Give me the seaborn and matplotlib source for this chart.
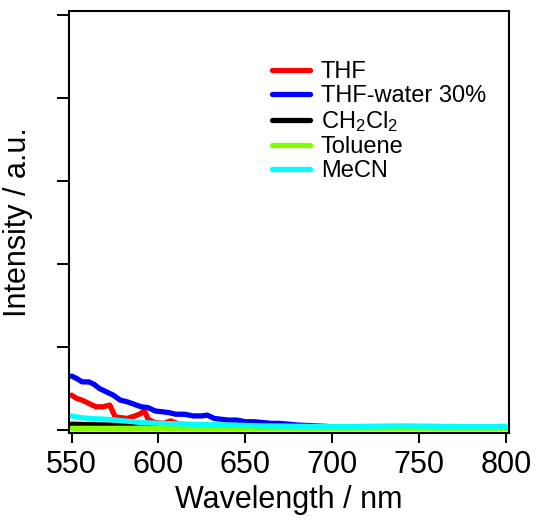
import pandas as pd
import matplotlib.pyplot as plt
import seaborn as sns

# Emission spectra (intensity in tick units)
thf_wl = [550, 553, 556, 560, 564, 568, 572, 575, 578, 582, 585, 589, 592, 594, 598, 603, 607, 612, 620, 630, 640, 660, 700, 750, 800]
thf_int = [0.42, 0.38, 0.36, 0.32, 0.28, 0.28, 0.30, 0.16, 0.15, 0.14, 0.16, 0.19, 0.23, 0.13, 0.09, 0.08, 0.11, 0.07, 0.06, 0.05, 0.04, 0.04, 0.03, 0.02, 0.02]

water_wl = [550, 553, 556, 560, 563, 566, 570, 574, 578, 582, 586, 590, 594, 598, 602, 606, 610, 615, 620, 625, 628, 632, 636, 640, 645, 650, 655, 660, 665, 670, 675, 680, 690, 700, 720, 740, 760, 780, 800]
water_int = [0.65, 0.62, 0.58, 0.58, 0.55, 0.50, 0.46, 0.42, 0.36, 0.34, 0.31, 0.28, 0.27, 0.23, 0.22, 0.21, 0.19, 0.19, 0.17, 0.17, 0.18, 0.14, 0.13, 0.12, 0.12, 0.10, 0.10, 0.09, 0.08, 0.08, 0.07, 0.06, 0.05, 0.04, 0.04, 0.035, 0.03, 0.03, 0.03]

dcm_wl = [550, 570, 600, 630, 660]
dcm_int = [0.07, 0.06, 0.05, 0.04, 0.03]

tol_wl = [550, 600, 650, 700, 750, 800]
tol_int = [0.02, 0.02, 0.015, 0.02, 0.02, 0.02]

mecn_wl = [550, 555, 560, 570, 580, 590, 600, 620, 640, 660, 680, 700, 720, 740, 760, 780, 800]
mecn_int = [0.17, 0.15, 0.14, 0.13, 0.11, 0.09, 0.08, 0.07, 0.06, 0.05, 0.045, 0.04, 0.045, 0.05, 0.045, 0.04, 0.04]

labels = ["THF", "THF-water 30%", r"CH$_2$Cl$_2$", "Toluene", "MeCN"]
colors = ["#FF0000", "#0000FF", "#000000", "#7FFF00", "#00FFFF"]

series = [(thf_wl, thf_int), (water_wl, water_int), (dcm_wl, dcm_int), (tol_wl, tol_int), (mecn_wl, mecn_int)]
df = pd.concat(
    [pd.DataFrame({"wl": w, "intensity": v, "solvent": lab}) for (w, v), lab in zip(series, labels)],
    ignore_index=True,
)

sns.set_style("ticks")
plt.rcParams["font.family"] = ["Liberation Sans", "DejaVu Sans"]
plt.rcParams["mathtext.fontset"] = "custom"
plt.rcParams["mathtext.rm"] = "Liberation Sans"
plt.rcParams["mathtext.it"] = "Liberation Sans:italic"
plt.rcParams["text.color"] = "black"
plt.rcParams["axes.labelcolor"] = "black"
plt.rcParams["xtick.color"] = "black"
plt.rcParams["ytick.color"] = "black"

fig = plt.figure(figsize=(5.36, 5.2), dpi=100)
ax = fig.add_axes([0.1287, 0.1673, 0.8209, 0.8115])

sns.lineplot(data=df, x="wl", y="intensity", hue="solvent", hue_order=labels,
             palette=colors, linewidth=3.8, sort=True, estimator=None, ax=ax)

ax.set_xlim(548.5, 801.7)
ax.set_ylim(-0.036, 5.05)
ax.set_xticks([550, 600, 650, 700, 750, 800])
ax.set_yticks([0, 1, 2, 3, 4, 5])
ax.set_yticklabels([])
ax.tick_params(axis="x", length=7.5, width=1.4, labelsize=22, pad=5, colors="black")
ax.tick_params(axis="y", length=8.6, width=1.4, colors="black")
for sp in ax.spines.values():
    sp.set_linewidth(1.5)
    sp.set_color("black")
    sp.set_visible(True)

ax.set_xlabel("Wavelength / nm", fontsize=22, labelpad=3)
ax.set_ylabel("Intensity / a.u.", fontsize=22, labelpad=14)

leg = ax.legend(loc="upper left", bbox_to_anchor=(0.508, 0.883), bbox_transform=fig.transFigure,
                frameon=False, fontsize=17, handlelength=1.6, handletextpad=0.45,
                labelspacing=0.09, borderaxespad=0, borderpad=0)
for t in leg.get_texts():
    t.set_color("black")

fig.savefig("out.png", dpi=100)
plt.close()
